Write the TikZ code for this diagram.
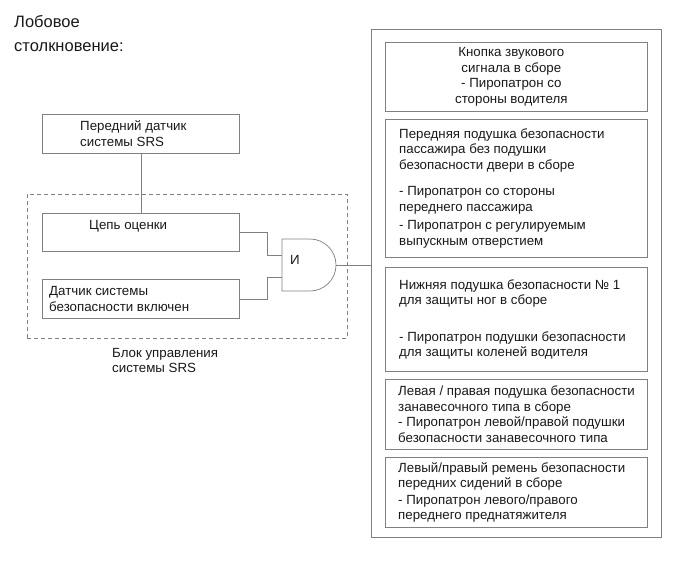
\documentclass[tikz,border=0pt]{standalone}
\usepackage{fontspec}
\setmainfont{Liberation Sans}
\usetikzlibrary{positioning,calc}

\tikzset{
  frame/.style={draw=black!50, line width=0.7pt, rectangle, inner sep=0pt, anchor=north west},
  txt/.style={inner sep=0pt, align=left, text=black!90, font=\fontsize{13.3}{15.5}\selectfont},
  wire/.style={draw=black!50, line width=0.7pt},
}

\begin{document}
\begin{tikzpicture}[x=1pt, y=-1pt]
  \useasboundingbox (0,0) rectangle (690,562);

  % title
  \node[txt, anchor=north west, font=\fontsize{16.5}{24}\selectfont] (title) at (14,15) {Лобовое\\столкновение:};

  % left side: sensors and control unit
  \node[frame, minimum width=197, minimum height=39] (front) at (42,114) {};
  \node[txt, right=38pt of front.west, anchor=west] (front text) {Передний датчик\\системы SRS};

  \node[frame, dashed, dash pattern=on 4pt off 3pt, minimum width=320, minimum height=144] (ecu) at (27,194) {};
  \node[txt, anchor=north west] (ecu text) at (112,348) {Блок управления\\системы SRS};

  \node[frame, minimum width=197, minimum height=38] (eval) at (42,213) {};
  \node[txt, anchor=north west] (eval text) at ($(eval.north west)+(47,7)$) {Цепь оценки};

  \node[frame, minimum width=197, minimum height=39] (sens) at (42,279) {};
  \node[txt, right=7pt of sens.west, anchor=west] (sens text) {Датчик системы\\безопасности включен};

  % AND gate
  \coordinate (in1) at (282,255);
  \coordinate (in2) at (282,277);
  \coordinate (out) at (336,265);
  \draw[wire, fill=white] (282,239) -- (310,239) arc[start angle=90, end angle=-90, radius=26pt] -- (282,291) -- cycle;
  \node[txt, anchor=west] (gate) at (290,260) {И};

  % right side: squibs
  \node[frame, minimum width=290, minimum height=508] (squibs) at (371,29) {};
  \node[frame, minimum width=262, minimum height=69] (horn) at (385,42) {};
  \node[txt, align=center] (horn text) at ($(horn.center)+(-5,0)$) {Кнопка звукового\\сигнала в сборе\\- Пиропатрон со\\стороны водителя};
  \node[frame, minimum width=262, minimum height=138] (pass) at (385,119) {};
  \node[txt, right=14pt of pass.west, anchor=west] (pass text) {Передняя подушка безопасности\\пассажира без подушки\\безопасности двери в сборе\\[11pt]- Пиропатрон со стороны\\переднего пассажира\\[3pt]- Пиропатрон с регулируемым\\выпускным отверстием};
  \node[frame, minimum width=262, minimum height=104] (knee) at (385,267) {};
  \node[txt, right=14pt of knee.west, anchor=west] (knee text) {Нижняя подушка безопасности № 1\\для защиты ног в сборе\\[21pt]- Пиропатрон подушки безопасности\\для защиты коленей водителя};
  \node[frame, minimum width=262, minimum height=70] (curtain) at (385,379) {};
  \node[txt, right=13pt of curtain.west, anchor=west] (curtain text) {Левая / правая подушка безопасности\\занавесочного типа в сборе\\- Пиропатрон левой/правой подушки\\безопасности занавесочного типа};
  \node[frame, minimum width=262, minimum height=70] (belt) at (385,457) {};
  \node[txt, right=13pt of belt.west, anchor=west] (belt text) {Левый/правый ремень безопасности\\передних сидений в сборе\\[1pt]- Пиропатрон левого/правого\\переднего преднатяжителя};

  % connections
  \draw[wire] (front.south) -- (eval.north);
  \draw[wire] (eval.east) -- ++(28,0) |- (in1);
  \draw[wire] (sens.east) -- ++(28,0) |- (in2);
  \draw[wire] (out) -- (out -| squibs.west);
\end{tikzpicture}
\end{document}
